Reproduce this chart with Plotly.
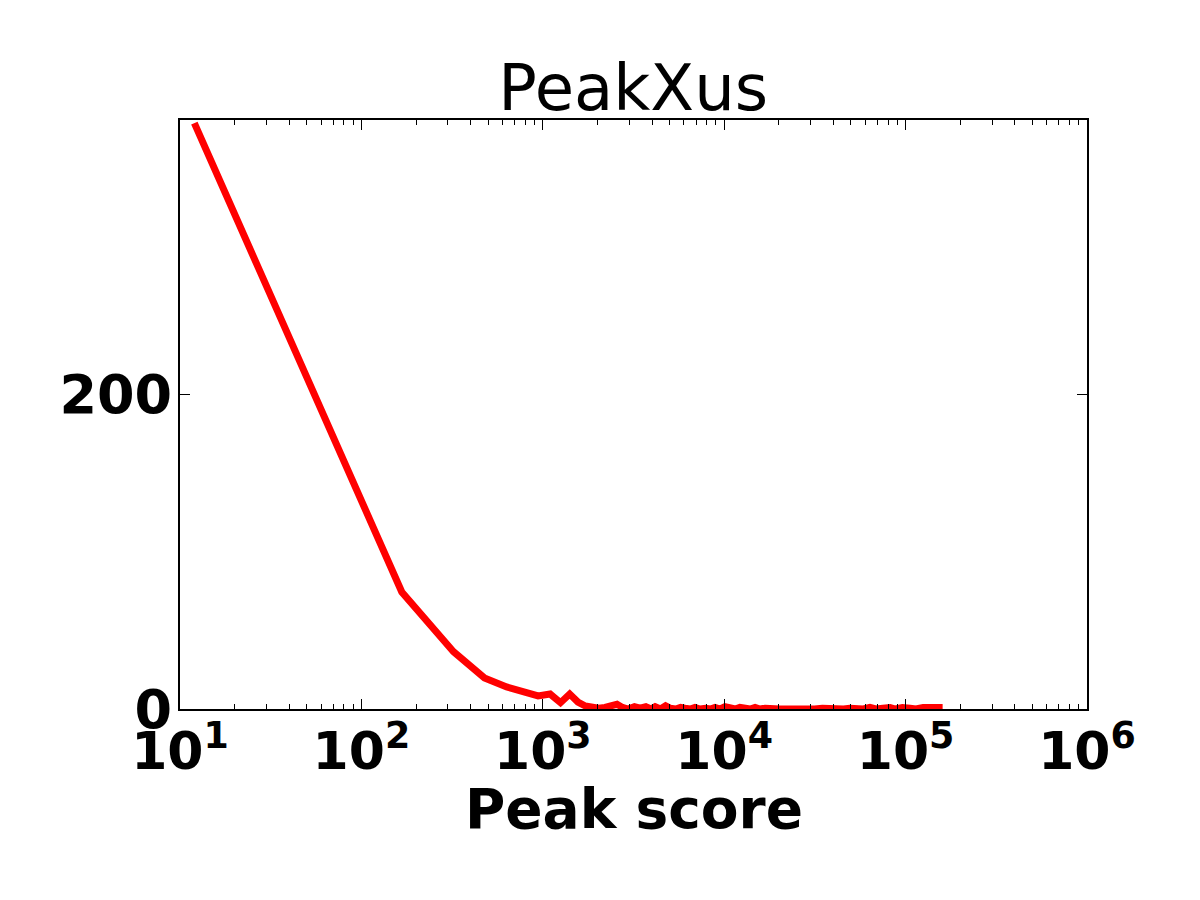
import plotly.graph_objects as go

# Peak score histogram (bin centres) and counts
head_x = [12, 167, 322, 477, 632, 787, 942, 1097, 1252, 1407, 1562, 1717, 1872, 2030, 2200]
head_y = [372, 74.3, 36.4, 19.7, 14.0, 11.0, 8.3, 9.5, 4.0, 9.5, 4.4, 1.9, 1.0, 0.5, 1.0]

tail_x = [2400, 2565, 2750, 2950, 3200, 3436, 3700, 3950, 4160, 4450, 4750, 5028, 5400,
          5750, 6080, 6500, 6900, 7360, 7900, 8400, 8900, 9500, 10100, 10760, 11500,
          12200, 13030, 13900, 14800, 15740, 16800, 17900, 19050, 20300, 21600, 23060,
          25000, 27000, 28970, 31500, 34800, 38300, 42000, 45500, 49300, 53500, 58500,
          63600, 68500, 75000, 82100, 88000, 96000, 105800, 114000, 125000, 136200,
          148000, 160000]
tail_y = [2.0, 3.0, 1.0, 0.0, 1.5, 0.5, 1.5, 0.0, 1.5, 0.0, 2.0, 0.5, 0.0,
          1.0, 0.5, 0.0, 1.0, 0.0, 0.5, 0.0, 1.0, 0.0, 1.5, 0.5, 0.0,
          1.0, 0.5, 0.0, 1.0, 0.0, 0.5, 0.0, 0.5, 0.0, 0.0, 0.5,
          0.0, 0.0, 0.5, 0.0, 0.5, 0.0, 0.0, 0.0, 0.5, 0.0, 0.0,
          1.0, 0.0, 0.5, 1.0, 0.0, 1.0, 0.5, 0.0, 1.0, 1.0,
          0.0, 1.0]

x_vals = head_x + tail_x
y_vals = head_y + tail_y

x_tick_vals = [10, 100, 1000, 10000, 100000, 1000000]
x_tick_text = ["10<sup>1</sup>", "10<sup>2</sup>", "10<sup>3</sup>",
               "10<sup>4</sup>", "10<sup>5</sup>", "10<sup>6</sup>"]
y_tick_vals = [0, 200]
y_tick_text = ["0", "200"]

fig = go.Figure()
fig.add_trace(go.Scatter(x=x_vals, y=y_vals, mode="lines",
                         line=dict(color="#ff0000", width=7),
                         cliponaxis=True, showlegend=False))

fig.update_layout(
    width=1200, height=900,
    margin=dict(l=172, r=121, t=112, b=199),
    paper_bgcolor="white", plot_bgcolor="white",
    font=dict(family="DejaVu Sans", color="black"),
    title=dict(text="PeakXus", x=0.521, xanchor="center",
               yref="container", y=1 - 102 / 900, yanchor="bottom",
               font=dict(size=64, family="DejaVu Sans", color="black")),
    annotations=[dict(text="<b>Peak score</b>", xref="paper", yref="paper",
                      x=0.5, y=-0.17, xanchor="center", yanchor="middle",
                      showarrow=False,
                      font=dict(size=55, family="DejaVu Sans", color="black"))],
)

fig.update_xaxes(
    type="log", range=[1, 6], automargin=False,
    tickvals=x_tick_vals, ticktext=x_tick_text,
    ticks="inside", ticklen=10, tickwidth=1.2, tickcolor="black",
    minor=dict(ticks="inside", ticklen=5, tickwidth=1, tickcolor="black",
               dtick="D1", showgrid=False),
    showline=True, linecolor="black", linewidth=2, mirror="ticks",
    showgrid=False, zeroline=False,
    ticklabelstandoff=-4,
    tickfont=dict(size=52, family="DejaVu Sans", color="black", weight="bold"),
)

fig.update_yaxes(
    range=[0, 374], automargin=False,
    tickvals=y_tick_vals, ticktext=y_tick_text,
    ticks="inside", ticklen=10, tickwidth=1.2, tickcolor="black",
    showline=True, linecolor="black", linewidth=2, mirror="ticks",
    showgrid=False, zeroline=False,
    ticklabelstandoff=-5,
    tickfont=dict(size=54, family="DejaVu Sans", color="black", weight="bold"),
)

fig.write_html("out.html")
